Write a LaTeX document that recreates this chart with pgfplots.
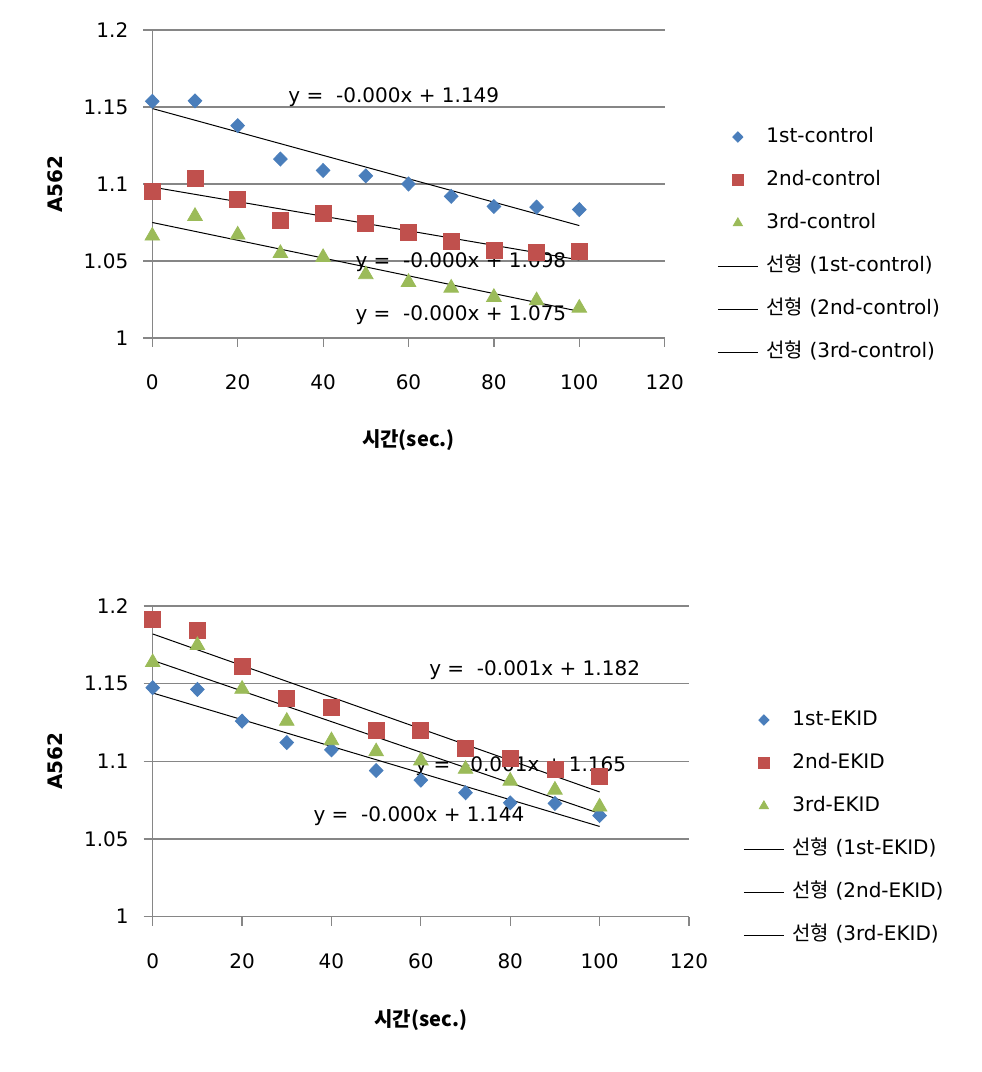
\documentclass[border=0pt]{standalone}
\usepackage{fontspec}
\setmainfont{DejaVu Sans}
\newfontfamily\kr{Noto Sans CJK KR}
\usepackage{pgfplots}
\pgfplotsset{compat=1.18}
\definecolor{cblue}{RGB}{74,126,187}
\definecolor{cred}{RGB}{192,80,77}
\definecolor{cgreen}{RGB}{155,187,89}
\definecolor{gridc}{RGB}{134,134,134}
\pgfplotsset{
  exstyle/.style={
    scale only axis,
    xmin=0, xmax=120, ymin=1, ymax=1.2,
    xtick={0,20,40,60,80,100,120},
    ytick={1,1.05,1.1,1.15,1.2},
    yticklabels={1,1.05,1.1,1.15,1.2},
    axis x line=bottom, axis y line=left,
    axis line style={gridc, line width=0.6pt, -},
    tick style={gridc, line width=0.6pt},
    tick align=outside, major tick length=4.5pt,
    ymajorgrids, grid style={gridc, line width=0.6pt},
    font=\fontsize{10}{12}\selectfont,
    /pgf/number format/assume math mode=true,
    xticklabel shift=10.5pt, yticklabel shift=4pt,
    clip=false,
    legend cell align=left,
    legend style={draw=none, fill=none, inner sep=0pt, row sep=11.5pt,
      /tikz/column sep=4pt,
      nodes={inner sep=0pt, text height=7.5pt, text depth=2.5pt}},
  },
  lineleg/.style={legend image code/.code={\draw[##1] (0pt,0pt) -- (20pt,0pt);}},
  markleg/.style={legend image code/.code={\draw[mark repeat=2,mark phase=2,##1, mark size=2.6pt] plot coordinates {(0pt,0pt) (10pt,0pt) (20pt,0pt)};}},
  sdia/.style={only marks, mark=diamond*, mark size=3.5pt, cblue, mark options={draw=cblue, fill=cblue, xscale=1.3}, markleg},
  ssq/.style={only marks, mark=square*, mark size=4pt, cred, mark options={draw=cred, fill=cred}, markleg},
  stri/.style={only marks, mark=triangle*, mark size=4.2pt, cgreen, mark options={draw=cgreen, fill=cgreen}, markleg},
  trend/.style={black, line width=0.5pt, no markers, lineleg},
}
\begin{document}
\begin{tikzpicture}
\useasboundingbox (0,0) rectangle (490.5pt,536pt);
% ---------- top chart ----------
\begin{axis}[exstyle, width=256.2pt, height=154pt, at={(76.15pt,367pt)}, anchor=south west,
  xlabel={\kr\bfseries 시간(sec.)},
  xlabel style={at={(axis description cs:0.5,-0.331)}, anchor=center},
  ylabel={\bfseries A562},
  ylabel style={at={(axis description cs:-0.189,0.5)}, anchor=center, rotate=0},
  legend style={at={(1.102,0.3035)}, anchor=west}]
\addplot[sdia] coordinates {(0,1.1537)(10,1.154)(20,1.1379)(30,1.1162)(40,1.1088)(50,1.1053)(60,1.100)(70,1.092)(80,1.0854)(90,1.085)(100,1.0834)};
\addlegendentry{1st-control}
\addplot[ssq] coordinates {(0,1.0952)(10,1.1035)(20,1.0902)(30,1.0765)(40,1.0806)(50,1.0743)(60,1.0686)(70,1.0626)(80,1.0572)(90,1.0554)(100,1.0563)};
\addlegendentry{2nd-control}
\addplot[stri] coordinates {(0,1.0663)(10,1.0791)(20,1.067)(30,1.055)(40,1.0524)(50,1.0412)(60,1.0362)(70,1.0325)(80,1.0265)(90,1.0243)(100,1.0195)};
\addlegendentry{3rd-control}
\addplot[trend] coordinates {(0,1.149)(100,1.073)};
\addlegendentry{{\kr 선형} (1st-control)}
\addplot[trend] coordinates {(0,1.098)(100,1.0507)};
\addlegendentry{{\kr 선형} (2nd-control)}
\addplot[trend] coordinates {(0,1.075)(100,1.0173)};
\addlegendentry{{\kr 선형} (3rd-control)}
\node[anchor=west, inner sep=0pt] at (axis cs:31.8,1.1565) {y = \ -0.000x + 1.149};
\node[anchor=west, inner sep=0pt] at (axis cs:47.5,1.0494) {y = \ -0.000x + 1.098};
\node[anchor=west, inner sep=0pt] at (axis cs:47.5,1.0149) {y = \ -0.000x + 1.075};
\end{axis}
% ---------- bottom chart ----------
\begin{axis}[exstyle, width=268.15pt, height=155.35pt, at={(76.35pt,77.65pt)}, anchor=south west,
  xlabel={\kr\bfseries 시간(sec.)},
  xlabel style={at={(axis description cs:0.5,-0.3315)}, anchor=center},
  ylabel={\bfseries A562},
  ylabel style={at={(axis description cs:-0.182,0.5)}, anchor=center, rotate=0},
  legend style={at={(1.1007,0.287)}, anchor=west}]
\addplot[sdia] coordinates {(0,1.1474)(10,1.1463)(20,1.1259)(30,1.1121)(40,1.1074)(50,1.0941)(60,1.0879)(70,1.0798)(80,1.0733)(90,1.0729)(100,1.0651)};
\addlegendentry{1st-EKID}
\addplot[ssq] coordinates {(0,1.1913)(10,1.1844)(20,1.161)(30,1.1405)(40,1.1347)(50,1.12)(60,1.12)(70,1.1085)(80,1.1022)(90,1.0946)(100,1.0905)};
\addlegendentry{2nd-EKID}
\addplot[stri] coordinates {(0,1.1637)(10,1.1747)(20,1.1465)(30,1.1259)(40,1.1134)(50,1.1063)(60,1.1004)(70,1.095)(80,1.0874)(90,1.0816)(100,1.0707)};
\addlegendentry{3rd-EKID}
\addplot[trend] coordinates {(0,1.144)(100,1.0581)};
\addlegendentry{{\kr 선형} (1st-EKID)}
\addplot[trend] coordinates {(0,1.182)(100,1.0803)};
\addlegendentry{{\kr 선형} (2nd-EKID)}
\addplot[trend] coordinates {(0,1.165)(100,1.0664)};
\addlegendentry{{\kr 선형} (3rd-EKID)}
\node[anchor=west, inner sep=0pt] at (axis cs:61.8,1.1588) {y = \ -0.001x + 1.182};
\node[anchor=west, inner sep=0pt] at (axis cs:58.7,1.0966) {y = \ -0.001x + 1.165};
\node[anchor=west, inner sep=0pt] at (axis cs:35.9,1.0644) {y = \ -0.000x + 1.144};
\end{axis}
\end{tikzpicture}
\end{document}
